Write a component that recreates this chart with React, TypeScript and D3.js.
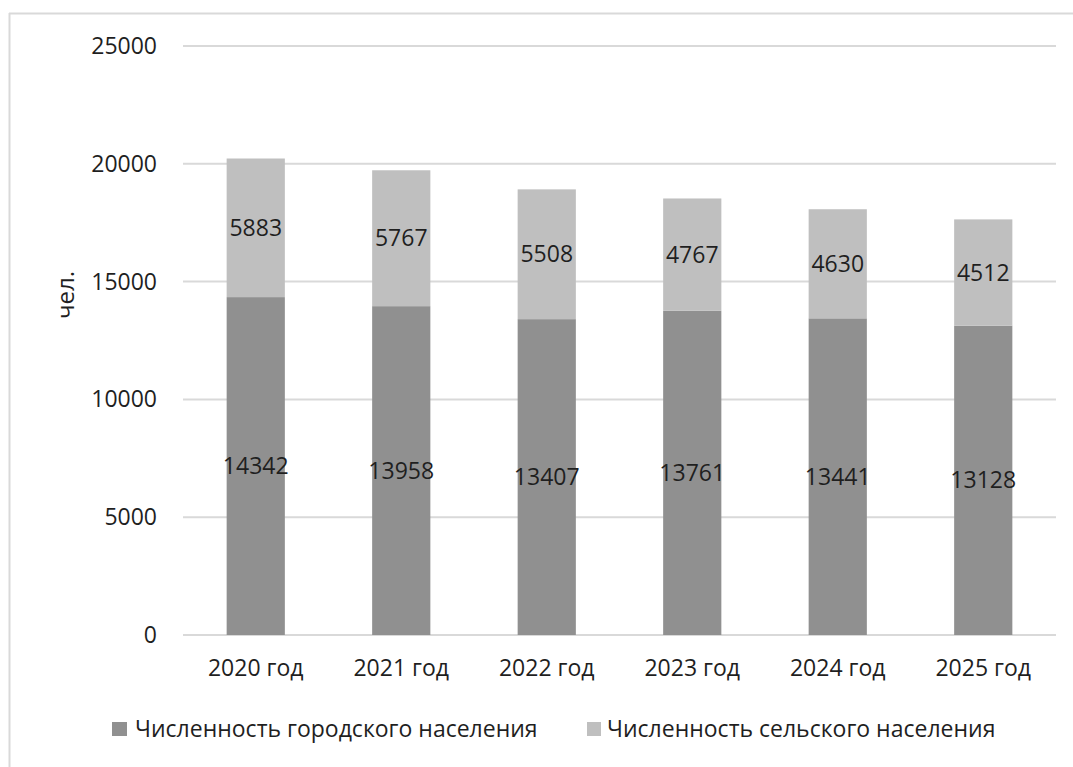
import React from "react";
import * as d3 from "d3";

const categories = ["2020 год", "2021 год", "2022 год", "2023 год", "2024 год", "2025 год"];
const urban = [14342, 13958, 13407, 13761, 13441, 13128];
const rural = [5883, 5767, 5508, 4767, 4630, 4512];
const seriesNames = ["Численность городского населения", "Численность сельского населения"];
const yTicks = [0, 5000, 10000, 15000, 20000, 25000];
const yTitle = "чел.";

const W = 1073, H = 767;
const FONT = "'Open Sans', sans-serif";
const TXT = "#1f1f1f";
const C_URBAN = "#909090";
const C_RURAL = "#bfbfbf";
const FS = 23;

export default function App() {
  const x = d3.scaleBand<string>().domain(categories).range([183, 1056]).paddingInner(0.6).paddingOuter(0.3);
  const y = d3.scaleLinear().domain([0, 25000]).range([635, 46]);
  const bw = x.bandwidth();
  return (
    <svg width={W} height={H} style={{ position: "absolute", left: 0, top: 0, background: "#fff" }} fontFamily={FONT}>
      <rect x={0} y={0} width={W} height={H} fill="#fff" />
      <line x1={9.5} y1={13} x2={9.5} y2={H} stroke="#d9d9d9" strokeWidth={2} />
      <line x1={9} y1={13.5} x2={W} y2={13.5} stroke="#d9d9d9" strokeWidth={2} />
      {yTicks.map((t) => (
        <g key={t}>
          <line x1={183} x2={1056} y1={y(t)} y2={y(t)} stroke="#d9d9d9" strokeWidth={2} />
          <text x={157} y={y(t)} dy="0.35em" textAnchor="end" fontSize={FS} fill={TXT}>{t}</text>
        </g>
      ))}
      {categories.map((c, i) => {
        const x0 = x(c)!;
        const u = urban[i], r = rural[i];
        return (
          <g key={c}>
            <rect x={x0} width={bw} y={y(u)} height={y(0) - y(u)} fill={C_URBAN} />
            <rect x={x0} width={bw} y={y(u + r)} height={y(u) - y(u + r)} fill={C_RURAL} />
            <text x={x0 + bw / 2} y={(y(0) + y(u)) / 2} dy="0.35em" textAnchor="middle" fontSize={FS} fill={TXT}>{u}</text>
            <text x={x0 + bw / 2} y={(y(u) + y(u + r)) / 2} dy="0.35em" textAnchor="middle" fontSize={FS} fill={TXT}>{r}</text>
            <text x={x0 + bw / 2} y={668} dy="0.35em" textAnchor="middle" fontSize={FS} fill={TXT}>{c}</text>
          </g>
        );
      })}
      <text transform={`translate(66,295) rotate(-90)`} textAnchor="middle" dy="0.35em" fontSize={24} fill={TXT}>{yTitle}</text>
      <rect x={112} y={722} width={15} height={14} fill={C_URBAN} />
      <text x={135} y={729} dy="0.35em" fontSize={FS} fill={TXT}>{seriesNames[0]}</text>
      <rect x={587} y={722} width={14} height={14} fill={C_RURAL} />
      <text x={607} y={729} dy="0.35em" fontSize={FS} fill={TXT}>{seriesNames[1]}</text>
    </svg>
  );
}
